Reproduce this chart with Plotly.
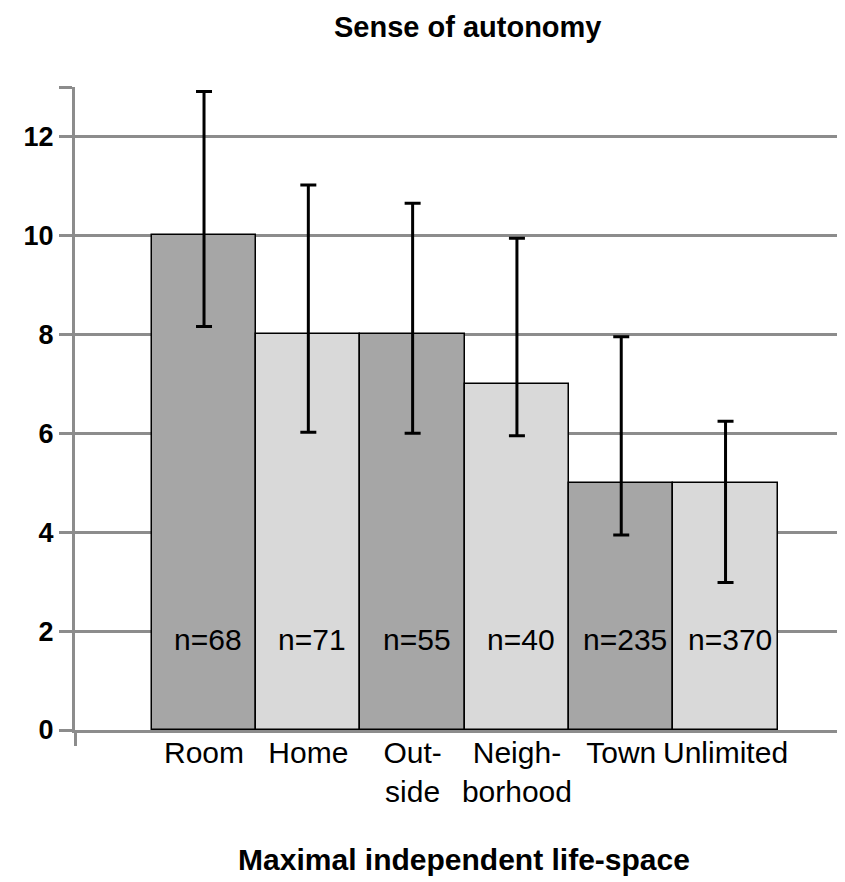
import plotly.graph_objects as go

categories = ["Room", "Home", "Out-<br>side", "Neigh-<br>borhood", "Town", "Unlimited"]
means = [10, 8, 8, 7, 5, 5]
upper = [12.91, 11.02, 10.65, 9.94, 7.95, 6.24]
lower = [8.16, 6.02, 6.00, 5.95, 3.94, 2.98]
n_labels = ["n=68", "n=71", "n=55", "n=40", "n=235", "n=370"]
bar_colors = ["#a6a6a6", "#d9d9d9", "#a6a6a6", "#d9d9d9", "#a6a6a6", "#d9d9d9"]
y_ticks = [0, 2, 4, 6, 8, 10, 12]

xpos = list(range(len(categories)))
err_plus = [u - m for u, m in zip(upper, means)]
err_minus = [m - l for m, l in zip(means, lower)]

FONT = "Liberation Sans, Arial, sans-serif"
GRID = "#8c8c8c"

fig = go.Figure()
fig.add_trace(go.Bar(
    x=xpos, y=means, width=1.0,
    marker=dict(color=bar_colors, line=dict(color="black", width=1.5)),
    error_y=dict(type="data", symmetric=False, array=err_plus, arrayminus=err_minus,
                 color="black", thickness=3, width=8),
    showlegend=False, hoverinfo="skip",
))

for xp, lab in zip(xpos, n_labels):
    fig.add_annotation(x=xp, y=1.82, xref="x", yref="y", text=lab, showarrow=False,
                       xshift=4, font=dict(family=FONT, size=30, color="black"))

fig.add_annotation(x=0.505, y=1, xref="paper", yref="paper", yanchor="middle",
                   yshift=60, text="<b>Sense of autonomy</b>", showarrow=False,
                   font=dict(family=FONT, size=29, color="black"))

fig.update_layout(
    width=845, height=882,
    margin=dict(l=67, r=0, t=79, b=160),
    paper_bgcolor="white", plot_bgcolor="white",
    bargap=0,
    xaxis=dict(
        range=[-1.237, 6.222], tickmode="array", tickvals=xpos, ticktext=categories,
        ticks="", showgrid=False, zeroline=False,
        showline=True, linecolor=GRID, linewidth=3,
        ticklabelstandoff=-6,
        tickfont=dict(family=FONT, size=30, color="black"),
        minor=dict(tickmode="array", tickvals=[-1.237], ticks="outside",
                   ticklen=13, tickwidth=3, tickcolor=GRID, showgrid=False),
        title=dict(text="<b>Maximal independent life-space</b>", standoff=42,
                   font=dict(family=FONT, size=30, color="black")),
        fixedrange=True,
    ),
    yaxis=dict(
        range=[0, 13], tickmode="array", tickvals=y_ticks + [13],
        ticktext=[str(v) for v in y_ticks] + [""],
        ticks="outside", ticklen=13, tickwidth=3, tickcolor=GRID,
        showgrid=True, gridcolor=GRID, gridwidth=3, zeroline=False,
        showline=True, linecolor=GRID, linewidth=3,
        tickfont=dict(family=FONT, size=27, color="black", weight="bold"),
        fixedrange=True,
    ),
)

fig.write_html("out.html")
